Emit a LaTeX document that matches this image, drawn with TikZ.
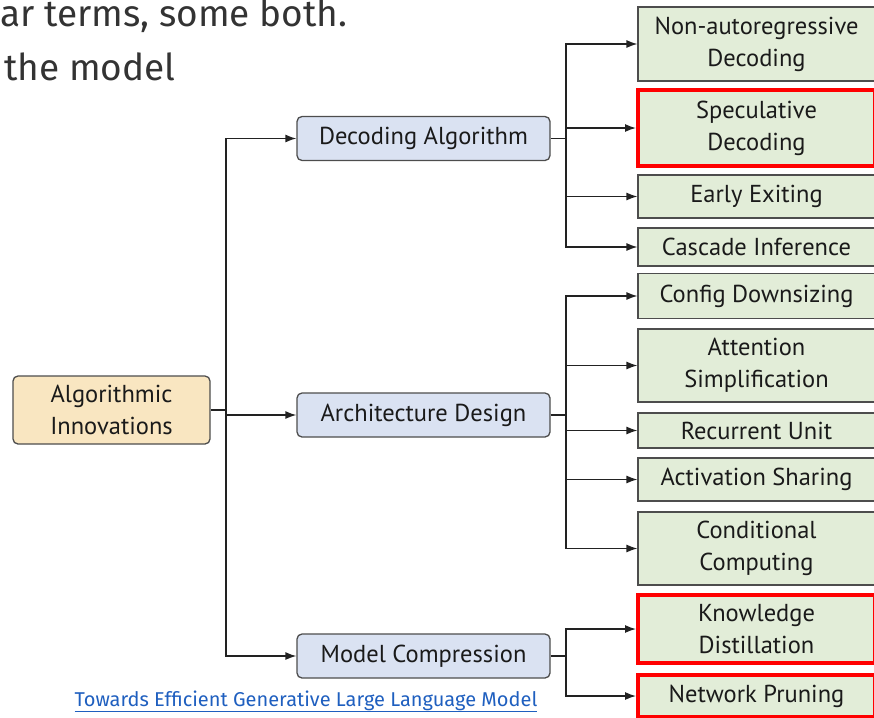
\documentclass[tikz,border=0pt]{standalone}
\usepackage{fontspec}
\setmainfont{PT Sans}
\newfontfamily\slidefont{Fira Sans}
\usepackage{tikz}
\usetikzlibrary{calc,arrows.meta}
\definecolor{ink}{HTML}{1A1A1A}
\definecolor{slidetext}{HTML}{333333}
\definecolor{linec}{HTML}{222222}
\definecolor{boxline}{HTML}{4D4D4D}
\definecolor{rootfill}{HTML}{F9E6C1}
\definecolor{midfill}{HTML}{DAE2F2}
\definecolor{leaffill}{HTML}{E2EDD8}
\definecolor{hotred}{HTML}{FF0000}
\definecolor{linkblue}{HTML}{1F5FBF}
\tikzset{
  conn/.style={draw=linec, line width=1.3pt},
  arr/.style={conn, -{Latex[length=11pt,width=8pt]}},
  boxtxt/.style={text=ink, align=center, inner sep=0pt, font=\fontsize{24.5}{32}\selectfont},
  rootbox/.style={boxtxt, draw=boxline, fill=rootfill, rounded corners=5pt, line width=1.3pt, minimum width=197pt, minimum height=68pt},
  midbox/.style={boxtxt, draw=boxline, fill=midfill, rounded corners=5pt, line width=1.3pt, minimum width=253pt, minimum height=44pt},
  leafbox/.style={boxtxt, draw=boxline, fill=leaffill, line width=1.2pt, minimum width=237pt},
  hot/.style={draw=hotred, line width=4pt},
  slide/.style={text=slidetext, inner sep=0pt, font=\slidefont\fontsize{37}{44}\selectfont},
  linkcap/.style={text=linkblue, inner sep=0pt, font=\slidefont\fontsize{20}{24}\selectfont},
}
\begin{document}
\begin{tikzpicture}[x=1pt,y=-1pt]
  \useasboundingbox (0,0) rectangle (874,717);

  % slide text behind the figure
  \node[slide, anchor=base west] (line1) at (0,26.5) {ar terms, some both.};
  \node[slide, anchor=base west] (line2) at (4,80) {the model};

  % root and the three groups
  \node[rootbox] (root) at (111.5,410) {Algorithmic\\Innovations};
  \node[midbox] (dec) at (423.5,138.5) {Decoding Algorithm};
  \node[midbox] (arch) at (423.5,415) {Architecture Design};
  \node[midbox] (comp) at (423.5,656) {Model Compression};

  % leaves
  \node[leafbox, minimum height=74pt] (nar) at (756.5,44) {Non-autoregressive\\Decoding};
  \node[leafbox, hot, minimum height=76pt] (spec) at (756.5,128) {Speculative\\Decoding};
  \node[leafbox, minimum height=43pt] (exit) at (756.5,196.5) {Early Exiting};
  \node[leafbox, minimum height=38pt] (casc) at (756.5,247) {Cascade Inference};
  \node[leafbox, minimum height=45pt] (conf) at (756.5,296) {Config Downsizing};
  \node[leafbox, minimum height=73pt] (attn) at (756.5,365.5) {Attention\\Simplification};
  \node[leafbox, minimum height=35pt] (rec) at (756.5,430.5) {Recurrent Unit};
  \node[leafbox, minimum height=43pt] (act) at (756.5,479.5) {Activation Sharing};
  \node[leafbox, minimum height=73pt] (cond) at (756.5,548.5) {Conditional\\Computing};
  \node[leafbox, hot, minimum height=68pt] (kd) at (756.5,629) {Knowledge\\Distillation};
  \node[leafbox, hot, minimum height=42pt] (prune) at (756.5,696) {Network Pruning};

  % junctions
  \coordinate (jroot) at (226,410);
  \coordinate (jdec) at (566,138.5);
  \coordinate (jarch) at (566,415);
  \coordinate (jcomp) at (566,656);

  \draw[conn] (root.east) -- (jroot);
  \draw[arr] (jroot) |- (dec.west);
  \draw[arr] (jroot |- arch.west) -- (arch.west);
  \draw[arr] (jroot) |- (comp.west);

  \draw[conn] (dec.east) -- (jdec);
  \foreach \n in {nar,spec,exit,casc}
    \draw[arr] (jdec) |- (\n.west);

  \draw[conn] (arch.east) -- (jarch);
  \foreach \n in {conf,attn,rec,act,cond}
    \draw[arr] (jarch) |- (\n.west);

  \draw[conn] (comp.east) -- (jcomp);
  \foreach \n in {kd,prune}
    \draw[arr] (jcomp) |- (\n.west);

  % source link
  \node[linkcap, anchor=base] (src) at (306,706) {\underline{Towards Efficient Generative Large Language Model}};
\end{tikzpicture}
\end{document}
